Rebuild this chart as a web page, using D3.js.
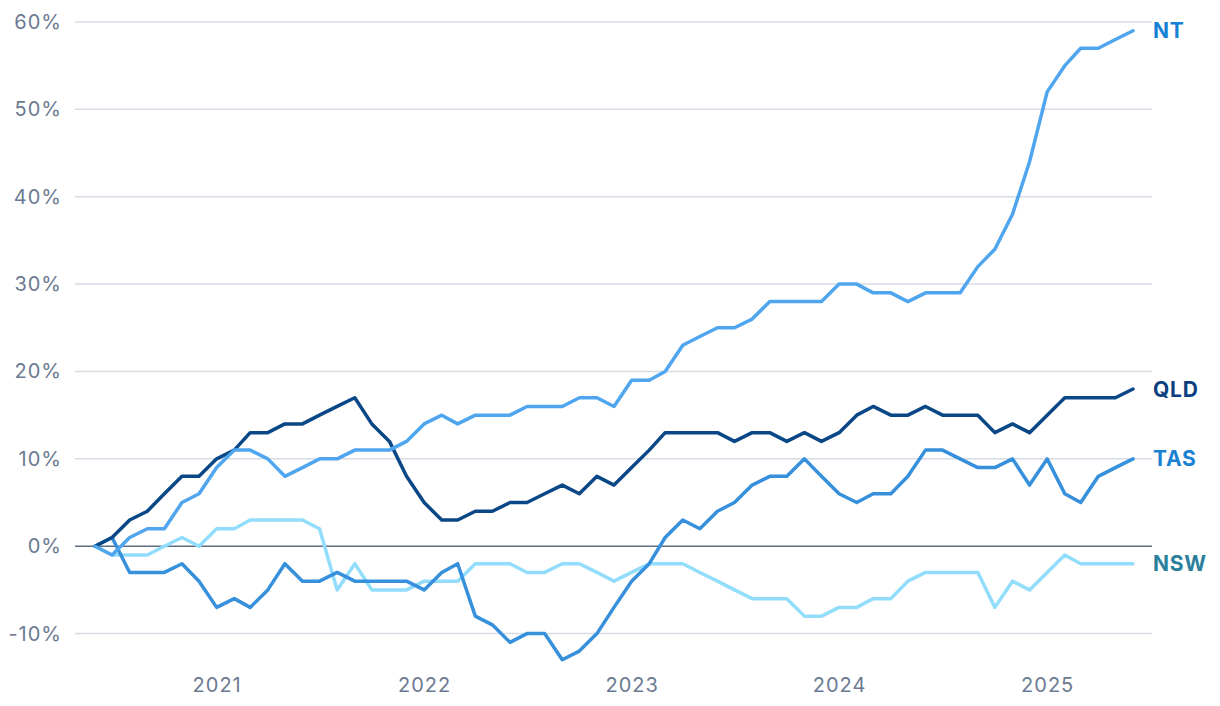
<!DOCTYPE html>
<html>
<head>
<meta charset="utf-8">
<script src="https://cdn.jsdelivr.net/npm/d3@7"></script>
<style>
  html, body { margin: 0; padding: 0; background: #ffffff; }
  svg { display: block; }
</style>
</head>
<body>
<svg id="chart" width="1220" height="706"></svg>
<script>
// ---- Data (monthly, Jun 2020 – Jun 2025, % change) ----
const startMonth = "2020-06";
const monthCount = 61;

const seriesNames = ["NSW", "TAS", "QLD", "NT"];

const NT = [0, -1, 1, 2, 2, 5, 6, 9, 11, 11, 10, 8,
            9, 10, 10, 11, 11, 11, 12, 14, 15, 14, 15, 15,
            15, 16, 16, 16, 17, 17, 16, 19, 19, 20, 23, 24,
            25, 25, 26, 28, 28, 28, 28, 30, 30, 29, 29, 28,
            29, 29, 29, 32, 34, 38, 44, 52, 55, 57, 57, 58, 59];

const QLD = [0, 1, 3, 4, 6, 8, 8, 10, 11, 13, 13, 14,
             14, 15, 16, 17, 14, 12, 8, 5, 3, 3, 4, 4,
             5, 5, 6, 7, 6, 8, 7, 9, 11, 13, 13, 13,
             13, 12, 13, 13, 12, 13, 12, 13, 15, 16, 15, 15,
             16, 15, 15, 15, 13, 14, 13, 15, 17, 17, 17, 17, 18];

const TAS = [0, 1, -3, -3, -3, -2, -4, -7, -6, -7, -5, -2,
             -4, -4, -3, -4, -4, -4, -4, -5, -3, -2, -8, -9,
             -11, -10, -10, -13, -12, -10, -7, -4, -2, 1, 3, 2,
             4, 5, 7, 8, 8, 10, 8, 6, 5, 6, 6, 8,
             11, 11, 10, 9, 9, 10, 7, 10, 6, 5, 8, 9, 10];

const NSW = [0, -1, -1, -1, 0, 1, 0, 2, 2, 3, 3, 3,
             3, 2, -5, -2, -5, -5, -5, -4, -4, -4, -2, -2,
             -2, -3, -3, -2, -2, -3, -4, -3, -2, -2, -2, -3,
             -4, -5, -6, -6, -6, -8, -8, -7, -7, -6, -6, -4,
             -3, -3, -3, -3, -7, -4, -5, -3, -1, -2, -2, -2, -2];

const yTicks = [-10, 0, 10, 20, 30, 40, 50, 60];
const xTickYears = [2021, 2022, 2023, 2024, 2025];

// ---- Styles ----
const lineColors = { NT: "#4fa6ef", QLD: "#0a4787", TAS: "#3790dc", NSW: "#92ddfc" };
const labelColors = { NT: "#1480d6", QLD: "#0b3f80", TAS: "#1b82d3", NSW: "#2a7f9c" };

const svg = d3.select("#chart");
const left = 75, right = 1152;

const parse = d3.timeParse("%Y-%m");
const start = parse(startMonth);
const dates = d3.range(monthCount).map(i => d3.timeMonth.offset(start, i));

const x = d3.scaleTime()
  .domain([dates[0], dates[dates.length - 1]])
  .range([95, 1133]);

const y = d3.scaleLinear()
  .domain([-10, 60])
  .range([633.6, 22]);

const data = { NT, QLD, TAS, NSW };

// grid lines
const gridG = svg.append("g");
gridG.selectAll("line")
  .data(yTicks.filter(t => t !== 0))
  .join("line")
  .attr("x1", left).attr("x2", right)
  .attr("y1", d => y(d)).attr("y2", d => y(d))
  .attr("stroke", "#d6dbe4")
  .attr("stroke-width", 1.5);

const axisFont = "Inter, 'Open Sans', sans-serif";

// y axis labels
const yAxis = d3.axisLeft(y)
  .tickValues(yTicks)
  .tickSize(0)
  .tickPadding(0)
  .tickFormat(d => d + "%");
const yAxisG = svg.append("g")
  .attr("transform", "translate(62,0)")
  .call(yAxis);
yAxisG.select(".domain").remove();
yAxisG.selectAll("text")
  .attr("fill", "#6b7a91")
  .style("font-family", axisFont)
  .style("font-size", "20px")
  .style("letter-spacing", "1px");

// x axis labels
const xAxis = d3.axisBottom(x)
  .tickValues(xTickYears.map(yr => new Date(yr, 0, 1)))
  .tickSize(0)
  .tickPadding(0)
  .tickFormat(d3.timeFormat("%Y"));
const xAxisG = svg.append("g")
  .attr("transform", "translate(0,678)")
  .call(xAxis);
xAxisG.select(".domain").remove();
xAxisG.selectAll("text")
  .attr("fill", "#6b7a91")
  .style("font-family", axisFont)
  .style("font-size", "20px")
  .style("letter-spacing", "1px");

// zero line
svg.append("line")
  .attr("x1", left).attr("x2", right)
  .attr("y1", y(0)).attr("y2", y(0))
  .attr("stroke", "#5e6d82")
  .attr("stroke-width", 1.5);

// lines
const line = d3.line()
  .x((d, i) => x(dates[i]))
  .y(d => y(d))
  .curve(d3.curveLinear);

const linesG = svg.append("g");
seriesNames.forEach(name => {
  linesG.append("path")
    .datum(data[name])
    .attr("fill", "none")
    .attr("stroke", lineColors[name])
    .attr("stroke-width", 3.5)
    .attr("stroke-linejoin", "round")
    .attr("stroke-linecap", "round")
    .attr("d", line);
});

// end labels
const labelsG = svg.append("g");
seriesNames.forEach(name => {
  const vals = data[name];
  labelsG.append("text")
    .attr("x", 1153)
    .attr("y", y(vals[vals.length - 1]))
    .attr("dy", "0.36em")
    .attr("fill", labelColors[name])
    .style("font-family", axisFont)
    .style("font-weight", "700")
    .style("font-size", "21px")
    .style("letter-spacing", "0.8px")
    .text(name);
});
</script>
</body>
</html>
